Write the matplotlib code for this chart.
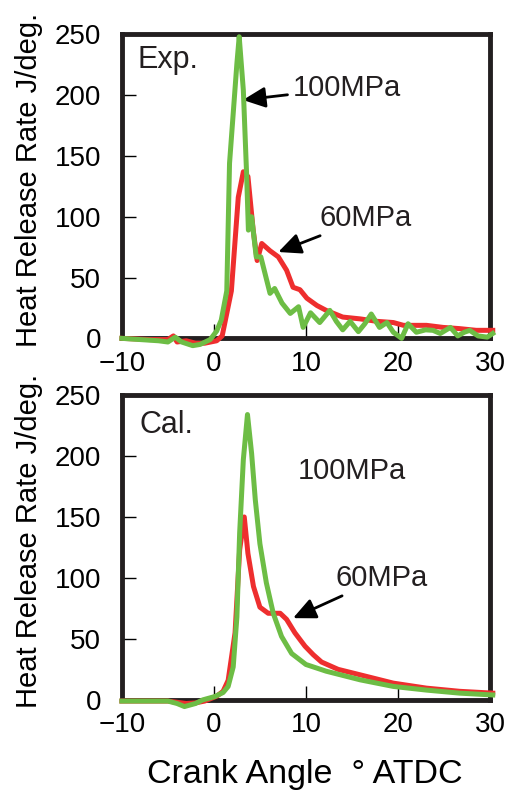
import matplotlib
matplotlib.use("Agg")
import matplotlib.pyplot as plt

RED = "#ee2e2e"
GREEN = "#6dbd45"

# Exp. (upper panel)
exp_ca_100 = [-10, -8, -6, -5, -4.2, -3.5, -2.3, -1.5, -0.4, 0.3, 0.8, 1.4, 1.7,
              2.1, 2.5, 2.75, 3.2, 3.55, 3.75, 4.1, 4.6, 5.1, 6.1, 6.6, 7.4,
              8.3, 9.2, 9.7, 10.5, 11.5, 12.6, 13.3, 14.0, 14.8, 15.7, 16.4,
              17.1, 18.0, 18.8, 19.5, 20.4, 21.1, 22.0, 23.0, 23.8, 24.6, 25.7,
              26.5, 27.2, 27.8, 28.7, 29.7, 30.3]
exp_hrr_100 = [0, -1, -2, -3, 1, -3, -6, -5, -1, 6, 15, 39, 144,
               185, 226, 248, 204, 136, 89, 100, 67, 67, 37, 41, 29,
               20.5, 26, 9, 21, 13, 23, 14, 7, 14, 5.5, 12,
               20, 9, 13, 5, 0, 12, 5, 7, 6.6, 4, 9,
               2, 5, 6.6, 2, 1, 4]
exp_ca_60 = [-10, -7, -5, -4.4, -4, -3, -2, -1, 0.3, 0.9, 1.9, 2.65, 3.2, 3.7,
             4.27, 4.7, 5.2, 6.1, 7.0, 7.9, 8.6, 9.35, 10.1, 11.2, 12.2, 14.0,
             15.9, 17.7, 19.5, 20.6, 23.1, 24.9, 26.7, 28.5, 30.3]
exp_hrr_60 = [0, -1, -1, 2, -3, -2, -4, -4, -2, 2, 39, 116, 137, 133,
              89, 64, 78, 72, 67, 56, 42, 40, 33, 27, 23, 17.5,
              16, 14, 13, 10.7, 10.7, 9, 8, 6.6, 6.6]

# Cal. (lower panel)
cal_ca_100 = [-10, -7, -5, -4, -3.2, -2, -1.2, 0.1, 1.0, 1.55, 2.1, 2.5, 2.8,
              3.2, 3.65, 4.1, 4.5, 5.0, 5.7, 6.45, 7.35, 8.45, 10.0, 12.2, 15.9,
              19.5, 23.1, 26.7, 30.3]
cal_hrr_100 = [-1, -1, -1, -3, -5.5, -3, 0, 2.7, 6, 11, 27, 68, 137,
               197, 234, 202, 164, 128, 96, 71, 52, 38, 29, 23.5, 16.4,
               11, 8, 5.5, 4]
cal_ca_60 = [-10, -7, -5, -3, -2, -1, 0.3, 1.0, 1.55, 2.3, 2.8, 3.3, 3.7, 4.3,
             5.0, 5.9, 7.2, 7.9, 8.8, 9.9, 10.8, 11.7, 13.5, 15.9, 19.5, 23.1,
             26.7, 30.3]
cal_hrr_60 = [-1, -1, -1, -3, -2.5, -1, 3, 7, 16, 55, 123, 150, 120, 93,
              76, 71, 71, 66, 55, 44, 37, 31, 25, 20.5, 13.7, 9.6,
              7, 5.5]

x_ticks = [-10, 0, 10, 20, 30]
y_ticks = [0, 50, 100, 150, 200, 250]

TEXT_FONT = ["Liberation Sans", "DejaVu Sans"]
INK = "#231f20"
ARROW = dict(arrowstyle="-|>,head_length=0.65,head_width=0.3", lw=2.0,
             color="k", shrinkA=2, shrinkB=0)

fig = plt.figure(figsize=(5.12, 7.98), dpi=100)
ax1 = fig.add_axes([0.238, 0.576, 0.719, 0.381])
ax2 = fig.add_axes([0.238, 0.123, 0.719, 0.382])

for ax in (ax1, ax2):
    ax.set_xlim(-10, 30)
    ax.set_ylim(0, 250)
    ax.set_xticks(x_ticks)
    ax.set_yticks(y_ticks)
    ax.set_xticklabels(["\u221210", "0", "10", "20", "30"], family=TEXT_FONT,
                       fontsize=20, color=INK)
    ax.set_yticklabels([str(v) for v in y_ticks], family=TEXT_FONT,
                       fontsize=20, color=INK)
    ax.tick_params(axis="both", direction="in", length=10, width=1, colors="k")
    ax.tick_params(axis="y", pad=15)
    ax.tick_params(axis="x", pad=9)
    for s in ax.spines.values():
        s.set_linewidth(3.5)
        s.set_color(INK)
    ax.set_ylabel("Heat Release Rate J/deg.", family=TEXT_FONT, fontsize=21)
    ax.yaxis.set_label_coords(-0.213, 0.52)

ax1.plot(exp_ca_60, exp_hrr_60, color=RED, lw=3.6, clip_on=False, zorder=3)
ax1.plot(exp_ca_100, exp_hrr_100, color=GREEN, lw=3.6, clip_on=False, zorder=4)
ax2.plot(cal_ca_60, cal_hrr_60, color=RED, lw=3.6, clip_on=False, zorder=3)
ax2.plot(cal_ca_100, cal_hrr_100, color=GREEN, lw=3.6, clip_on=False, zorder=4)

ax1.text(0.043, 0.914, "Exp.", transform=ax1.transAxes, family=TEXT_FONT,
         fontsize=22, va="center", ha="left", color=INK)
ax2.text(0.049, 0.90, "Cal.", transform=ax2.transAxes, family=TEXT_FONT,
         fontsize=22, va="center", ha="left", color=INK)

ax1.annotate("100MPa", xy=(3.15, 196), xytext=(8.6, 206), family=TEXT_FONT,
             fontsize=21, va="center", ha="left", color=INK,
             arrowprops=ARROW)
ax1.annotate("60MPa", xy=(7.0, 71), xytext=(11.5, 99), family=TEXT_FONT,
             fontsize=21, va="center", ha="left", color=INK,
             arrowprops=ARROW)
ax2.text(9.1, 188, "100MPa", family=TEXT_FONT, fontsize=21, va="center",
         ha="left", color=INK)
ax2.annotate("60MPa", xy=(8.6, 67), xytext=(13.2, 100), family=TEXT_FONT,
             fontsize=21, va="center", ha="left", color=INK,
             arrowprops=ARROW)

fig.text(305 / 512, 1 - 775 / 798, "Crank Angle  \u00b0 ATDC", family=TEXT_FONT,
         fontsize=24.5, ha="center", va="center")

fig.savefig("out.png", dpi=100)
